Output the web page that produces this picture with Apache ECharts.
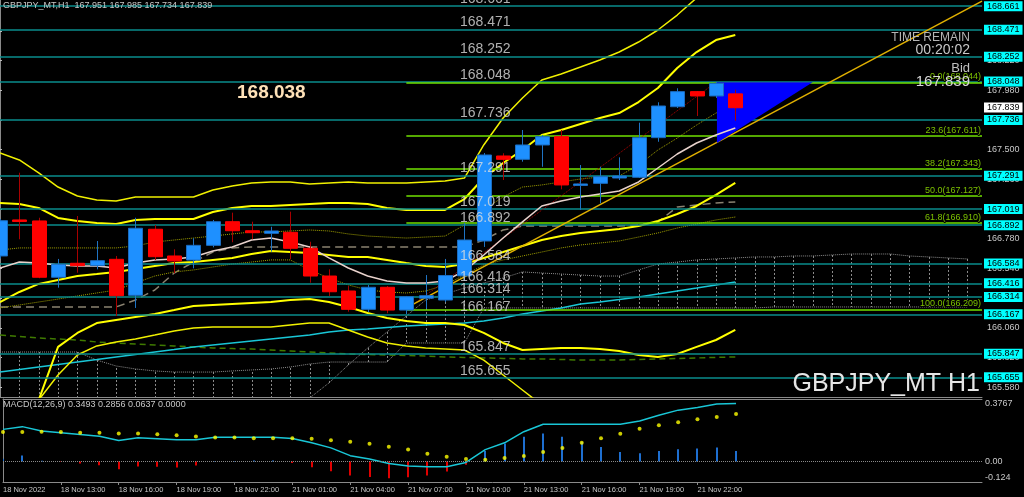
<!DOCTYPE html>
<html><head><meta charset="utf-8">
<script src="https://cdn.jsdelivr.net/npm/echarts/dist/echarts.min.js"></script>
<style>html,body{margin:0;padding:0;background:#000;}#c{width:1024px;height:497px;}</style>
</head><body><div id="c"></div>
<script>
// ---------- DATA ----------
const timeTickIdx = [0,3,6,9,12,15,18,21,24,27,30,33,36];
const timeTickLabels = ['18 Nov 2022','18 Nov 13:00','18 Nov 16:00','18 Nov 19:00','18 Nov 22:00','21 Nov 01:00','21 Nov 04:00','21 Nov 07:00','21 Nov 10:00','21 Nov 13:00','21 Nov 16:00','21 Nov 19:00','21 Nov 22:00'];
const priceTicks = [165.580,165.820,166.060,166.300,166.540,166.780,167.020,167.260,167.500,167.740,167.980,168.220,168.460];

const opens  = [166.641,166.932,166.924,166.469,166.582,166.563,166.614,166.323,166.857,166.641,166.608,166.727,166.918,166.845,166.824,166.832,166.703,166.479,166.358,166.210,166.388,166.204,166.300,166.285,166.480,166.762,167.449,167.422,167.538,167.605,167.215,167.228,167.271,167.277,167.597,167.847,167.969,167.934,167.951];
const highs  = [166.940,167.314,166.950,166.617,166.964,166.762,166.641,166.950,166.891,166.695,166.784,166.932,166.991,166.918,166.877,166.999,166.756,166.533,166.398,166.406,166.398,166.318,166.487,166.617,166.907,167.473,167.471,167.659,167.619,167.659,167.376,167.362,167.438,167.718,167.883,167.996,167.974,168.047,167.985];
const lows   = [166.620,166.776,166.461,166.385,166.506,166.533,166.156,166.221,166.608,166.501,166.541,166.711,166.752,166.776,166.676,166.614,166.425,166.318,166.191,166.188,166.178,166.172,166.215,166.269,166.440,166.714,167.255,167.403,167.362,167.180,167.013,167.067,167.255,167.271,167.564,167.837,167.772,167.918,167.734];
const closes = [166.926,166.924,166.469,166.574,166.563,166.603,166.320,166.865,166.635,166.601,166.727,166.918,166.845,166.829,166.843,166.703,166.479,166.352,166.210,166.388,166.204,166.312,166.320,166.483,166.770,167.457,167.422,167.538,167.605,167.215,167.223,167.282,167.287,167.597,167.853,167.969,167.934,168.036,167.839];

const bbMid   = [166.269,166.350,166.415,166.447,166.479,166.495,166.512,166.536,166.560,166.584,166.592,166.609,166.625,166.657,166.681,166.673,166.665,166.649,166.633,166.633,166.609,166.584,166.560,166.552,166.576,166.625,166.673,166.722,166.770,166.802,166.827,166.843,166.859,166.883,166.924,166.980,167.045,167.134,167.231];
const bbUp2   = [167.069,167.061,167.029,166.948,166.924,166.908,166.899,166.932,166.940,166.940,166.940,166.996,167.029,167.045,167.045,167.053,167.061,167.069,167.069,167.061,167.029,167.013,167.013,167.013,167.101,167.271,167.392,167.497,167.619,167.659,167.708,167.756,167.796,167.885,167.998,168.160,168.289,168.386,168.427];
const bbUp3   = [167.473,167.417,167.312,167.198,167.126,167.093,167.085,167.118,167.118,167.118,167.118,167.174,167.207,167.231,167.239,167.239,167.223,167.231,167.239,167.231,167.231,167.231,167.239,167.247,167.271,167.538,167.756,167.918,168.063,168.112,168.168,168.225,168.289,168.370,168.467,168.588,168.726,168.855,168.992];
const bbLow2  = [165.154,165.275,165.477,165.906,166.019,166.099,166.124,166.148,166.172,166.204,166.237,166.245,166.253,166.261,166.269,166.285,166.293,166.269,166.229,166.180,166.140,166.116,166.099,166.099,166.083,166.019,165.938,165.881,165.889,165.897,165.897,165.889,165.873,165.841,165.825,165.849,165.906,165.962,166.043];
const bbLow3  = [164.992,165.235,165.477,165.679,165.841,165.914,165.946,165.970,166.002,166.035,166.059,166.067,166.067,166.067,166.067,166.083,166.099,166.099,166.043,165.986,165.938,165.914,165.897,165.889,165.881,165.800,165.679,165.558,165.437,165.316,165.235,165.154,165.073,164.992,164.912,164.912,164.952,164.992,165.073];
const maPink  = [166.544,166.592,166.584,166.568,166.560,166.560,166.544,166.584,166.609,166.617,166.633,166.681,166.714,166.770,166.786,166.754,166.714,166.625,166.544,166.479,166.439,166.423,166.423,166.439,166.520,166.649,166.786,166.916,167.045,167.085,167.118,167.142,167.166,167.239,167.352,167.465,167.554,167.619,167.675];
const maCyan  = [165.703,165.724,165.744,165.764,165.784,165.804,165.825,165.845,165.865,165.885,165.906,165.922,165.938,165.954,165.970,165.986,166.002,166.027,166.043,166.051,166.063,166.075,166.083,166.091,166.099,166.116,166.140,166.172,166.196,166.221,166.253,166.269,166.289,166.310,166.334,166.358,166.382,166.407,166.431];
const maGreen = [166.002,165.990,165.978,165.970,165.962,165.946,165.938,165.930,165.922,165.914,165.906,165.897,165.893,165.889,165.881,165.873,165.865,165.857,165.849,165.845,165.841,165.837,165.833,165.825,165.821,165.817,165.813,165.809,165.809,165.805,165.800,165.800,165.800,165.805,165.809,165.813,165.817,165.821,165.825];
const kijun   = [166.229,166.229,166.229,166.229,166.229,166.229,166.229,166.285,166.366,166.503,166.592,166.673,166.706,166.714,166.714,166.714,166.714,166.714,166.714,166.714,166.714,166.714,166.714,166.714,166.714,166.770,166.851,166.883,166.883,166.883,166.883,166.883,166.883,166.891,166.916,167.037,167.053,167.069,167.077];
const dotOlive1 = [166.689,166.706,166.706,166.706,166.706,166.706,166.706,166.722,166.754,166.770,166.786,166.802,166.819,166.835,166.835,166.843,166.851,166.843,166.819,166.802,166.794,166.786,166.794,166.802,166.891,167.013,167.118,167.198,167.215,167.239,167.263,167.279,167.287,167.376,167.497,167.594,167.699,167.796,167.853];
const dotOlive2 = [166.221,166.245,166.269,166.293,166.318,166.342,166.366,166.423,166.479,166.512,166.528,166.552,166.576,166.592,166.609,166.609,166.528,166.463,166.407,166.366,166.350,166.342,166.358,166.407,166.487,166.568,166.609,166.641,166.673,166.706,166.730,166.746,166.762,166.794,166.827,166.867,166.899,166.932,166.956];
// cloud spans, bars 0..50
const spanA = [165.235,165.235,165.235,165.235,165.235,165.235,165.235,165.235,165.235,165.235,165.235,165.235,165.235,165.235,165.235,165.300,165.493,165.615,165.760,165.897,166.027,166.156,166.285,166.334,166.382,166.423,166.463,166.512,166.503,166.495,166.487,166.479,166.479,166.528,166.576,166.592,166.609,166.617,166.625,166.633,166.633,166.641,166.641,166.649,166.657,166.657,166.657,166.641,166.633,166.625,166.617];
const spanB = [165.865,165.865,165.865,165.865,165.865,165.800,165.752,165.728,165.712,165.703,165.703,165.703,165.712,165.720,165.728,165.744,165.768,165.784,165.784,165.784,165.784,165.938,165.938,165.938,165.938,166.221,166.221,166.221,166.221,166.221,166.221,166.221,166.221,166.221,166.221,166.221,166.221,166.221,166.221,166.221,166.229,166.229,166.229,166.229,166.229,166.229,166.229,166.229,166.229,166.229,166.229];

const levelPrices = [168.661,168.471,168.252,168.048,167.736,167.291,167.019,166.892,166.584,166.416,166.314,166.167,165.847,165.655];
const fibLevels = ['0.0','23.6','38.2','50.0','61.8','100.0'];
const fibPrices = [168.044,167.611,167.343,167.127,166.910,166.209];
const bidPrice = 167.839;

const macdMain   = [0.1935,0.2100,0.1832,0.1734,0.1630,0.1526,0.1264,0.1429,0.1368,0.1306,0.1306,0.1465,0.1465,0.1465,0.1465,0.1386,0.1123,0.0818,0.0348,0.0147,-0.0122,-0.0281,-0.0324,-0.0324,-0.0061,0.0714,0.1123,0.1795,0.2241,0.2241,0.2241,0.2241,0.2241,0.2442,0.2790,0.3095,0.3260,0.3462,0.3493];
const macdSignal = [0.1770,0.1770,0.1795,0.1770,0.1734,0.1734,0.1691,0.1691,0.1648,0.1587,0.1508,0.1447,0.1447,0.1404,0.1404,0.1404,0.1368,0.1282,0.1184,0.1062,0.0879,0.0714,0.0470,0.0287,0.0147,0.0104,0.0208,0.0330,0.0574,0.0818,0.1123,0.1404,0.1673,0.1978,0.2179,0.2363,0.2546,0.2686,0.2856];
const macdHist   = [0.0160,0.0366,0.0040,-0.0040,-0.0122,-0.0226,-0.0470,-0.0305,-0.0324,-0.0366,-0.0244,0.0020,0.0031,0.0061,0.0061,-0.0100,-0.0348,-0.0592,-0.0855,-0.0934,-0.1020,-0.0958,-0.0855,-0.0611,-0.0201,0.0629,0.1081,0.1484,0.1691,0.1484,0.1178,0.0873,0.0568,0.0488,0.0629,0.0733,0.0775,0.0836,0.0637];
const macdTicks = [-0.124, 0, 0.3767];

// ---------- LAYOUT / STYLE ----------
const XMAX = 50.75, PLOT_W = 982;
const SANS = '"Liberation Sans",Arial,sans-serif';
const teal = '#0a8c8c', fibGreen = '#70e000';
const pair = arr => arr.map((v,i)=>[i,v]);

function renderCandle(params, api){
  const i=api.value(0), o=api.value(1), c=api.value(2), l=api.value(3), h=api.value(4);
  const pO=api.coord([i,o]), pC=api.coord([i,c]), pL=api.coord([i,l]), pH=api.coord([i,h]);
  const up = c >= o;
  const x = Math.round(pO[0]) + 0.5, w = 14;
  const top = Math.min(pO[1],pC[1]), bot = Math.max(pO[1],pC[1]);
  return {type:'group', children:[
    {type:'line', shape:{x1:x,y1:pH[1],x2:x,y2:pL[1]}, style:{stroke: up?'#1f74c4':'#a80000', lineWidth:1}},
    {type:'rect', shape:{x:x-w/2, y:top, width:w, height:Math.max(bot-top,1.5)}, style:{fill: up?'#1e90ff':'#ff0000', stroke: up?'#1b6cc0':'#ff0000', lineWidth:1}}
  ]};
}
function renderHist(params, api){
  const i=api.value(0), v=api.value(1);
  const p0=api.coord([i,0]), p1=api.coord([i,v]);
  const x=Math.round(p0[0]);
  return {type:'rect', shape:{x:x-1, y:Math.min(p0[1],p1[1]), width:2, height:Math.abs(p1[1]-p0[1])}, style:{fill: v>=0?'#1e6fd0':'#e00000'}};
}
function renderCloud(params, api){
  const i=api.value(0), a=api.value(1), b=api.value(2);
  const pa=api.coord([i,a]), pb=api.coord([i,b]);
  const x=Math.round(pa[0])+0.5;
  return {type:'line', shape:{x1:x,y1:pa[1],x2:x,y2:pb[1]}, style:{stroke:'#8c8c8c', lineWidth:1, lineDash:[2,2]}};
}
function renderTri(params, api){
  if (params.dataIndex !== 0) return;
  const pts = triPts.map(p=>api.coord(p));
  return {type:'polygon', shape:{points:pts}, style:{fill:'#0000ff'}};
}
const triPts = [[37.05,168.044],[42.0,168.044],[37.05,167.554]];

const lineS = (data, color, width, type, z) => ({type:'line', xAxisIndex:0, yAxisIndex:0, data:pair(data), symbol:'none', silent:true, z:z||3,
  lineStyle:{color, width, type:type||'solid'}, animation:false});

const chart = echarts.init(document.getElementById('c'), null, {renderer:'canvas'});
const option = {
  backgroundColor:'#000',
  animation:false,
  grid:[
    {left:0, top:0, width:PLOT_W, height:397},
    {left:0, top:399, width:PLOT_W, height:83}
  ],
  xAxis:[
    {type:'value', gridIndex:0, min:0, max:XMAX, axisLabel:{show:false}, axisTick:{show:false}, splitLine:{show:false},
      axisLine:{show:true, onZero:false, lineStyle:{color:'#8a8a8a'}}},
    {type:'value', gridIndex:1, min:0, max:XMAX, splitLine:{show:false}, position:'bottom',
      axisLine:{show:true, onZero:false, lineStyle:{color:'#8a8a8a'}},
      axisTick:{show:true, length:3, customValues: timeTickIdx.slice(1), lineStyle:{color:'#8a8a8a'}},
      axisLabel:{show:true, customValues: timeTickIdx, align:'left', margin:4, color:'#c8c8c8', fontSize:7.5, fontFamily:SANS,
        formatter: v => timeTickLabels[timeTickIdx.indexOf(Math.round(v))] || ''}},
    {type:'value', gridIndex:1, min:0, max:XMAX, position:'top', axisLabel:{show:false}, axisTick:{show:false}, splitLine:{show:false},
      axisLine:{show:true, onZero:false, lineStyle:{color:'#8a8a8a'}}}
  ],
  yAxis:[
    {type:'value', gridIndex:0, position:'right', min:165.5014, max:168.7095, splitLine:{show:false},
      axisLine:{show:true, lineStyle:{color:'#8a8a8a'}},
      axisTick:{show:true, length:2, customValues:priceTicks, lineStyle:{color:'#bbbbbb'}},
      axisLabel:{show:true, customValues:priceTicks, margin:5, color:'#c8c8c8', fontSize:9, fontFamily:SANS, formatter:v=>v.toFixed(3)}},
    {type:'value', gridIndex:1, position:'right', min:-0.124, max:0.3767, splitLine:{show:false},
      axisLine:{show:true, lineStyle:{color:'#8a8a8a'}},
      axisTick:{show:false},
      axisLabel:{show:true, customValues:macdTicks, margin:3, color:'#c8c8c8', fontSize:9, fontFamily:SANS,
        verticalAlignMinLabel:'bottom', verticalAlignMaxLabel:'top',
        formatter:v=> v===0 ? '0.00' : (Math.abs(v-0.3767)<1e-6 ? '0.3767' : '-0.124')}}
  ],
  series:[
    {type:'line', xAxisIndex:0, yAxisIndex:0, data:[], z:2, silent:true,
      markLine:{symbol:'none', silent:true, animation:false,
        lineStyle:{color:teal, width:1.5, type:'solid'},
        label:{show:true, position:'end', distance:2, backgroundColor:'#00ffff', color:'#000', fontSize:9, fontFamily:SANS, padding:[1,3,0,3],
          formatter:'{b}'},
        data: levelPrices.map(v=>({yAxis:v, name:v.toFixed(3)}))
          .concat([{yAxis:bidPrice, name:bidPrice.toFixed(3), lineStyle:{color:'rgba(0,0,0,0)'}, label:{backgroundColor:'#ffffff', color:'#000'}}])
      }},
    {type:'custom', xAxisIndex:0, yAxisIndex:0, data:spanA.map((a,i)=>[i,a,spanB[i]]), renderItem:renderCloud, z:2, silent:true, clip:true},
    lineS(spanA, '#8c8c8c', 1, 'dotted', 2),
    lineS(spanB, '#8c8c8c', 1, 'dotted', 2),
    {type:'line', xAxisIndex:0, yAxisIndex:0, data:[], z:4, silent:true,
      markLine:{symbol:'none', silent:true, animation:false,
        lineStyle:{color:fibGreen, width:1.5, type:'solid'},
        label:{show:true, position:'insideEndTop', distance:1, color:'#7cc000', fontSize:9, fontFamily:SANS,
          textBorderColor:'#000', textBorderWidth:2},
        data: fibPrices.map((p,k)=>[{coord:[21,p], label:{formatter: fibLevels[k]+'('+p.toFixed(3)+')'}},{coord:[XMAX,p]}])
          .concat([[{coord:[21,fibPrices[5]], lineStyle:{color:'#b00000', type:'dotted', width:1}, label:{show:false}},{coord:[37,fibPrices[0]]}]])
      }},
    lineS(maGreen, '#3f7a00', 1.5, [6,4], 3),
    lineS(maCyan, '#19c6d6', 1.5, 'solid', 3),
    lineS(kijun, '#8a8270', 1.5, [8,5], 3),
    lineS(dotOlive1, '#a0a000', 1, 'dotted', 3),
    lineS(dotOlive2, '#a0a000', 1, 'dotted', 3),
    lineS(bbUp3, '#f0f000', 1.5, 'solid', 4),
    lineS(bbLow3, '#f0f000', 1.5, 'solid', 4),
    lineS(bbUp2, '#ffff00', 2, 'solid', 4),
    lineS(bbLow2, '#ffff00', 2, 'solid', 4),
    lineS(bbMid, '#ffff00', 2, 'solid', 4),
    lineS(maPink, '#e8d2cc', 1.5, 'solid', 5),
    {type:'custom', xAxisIndex:0, yAxisIndex:0, data:[[0]], renderItem:renderTri, z:5, silent:true, clip:true},
    {type:'custom', xAxisIndex:0, yAxisIndex:0, z:6, silent:true, clip:true, renderItem:renderCandle,
      encode:{x:0, y:[1,2,3,4]},
      data: opens.map((o,i)=>[i,o,closes[i],lows[i],highs[i]])},
    {type:'line', xAxisIndex:0, yAxisIndex:0, data:[], z:7, silent:true,
      markLine:{symbol:'none', silent:true, animation:false, label:{show:false},
        lineStyle:{color:'#e0b000', width:1.5, type:'solid'},
        data:[[{coord:[21,166.221]},{coord:[XMAX,168.70]}]]}},
    {type:'scatter', xAxisIndex:0, yAxisIndex:0, z:8, silent:true, symbolSize:0,
      data: levelPrices.map(v=>[23.77, v]),
      label:{show:true, position:'top', align:'left', distance:0, color:'#dcdcdc', fontSize:14, fontFamily:SANS,
        formatter:p=>p.value[1].toFixed(3)}},
    {type:'custom', xAxisIndex:1, yAxisIndex:1, data:pair(macdHist), renderItem:renderHist, z:3, silent:true, clip:true,
      markLine:{symbol:'none', silent:true, label:{show:false}, lineStyle:{color:'#8a8a8a', type:'dotted', width:1}, data:[{yAxis:0}]}},
    {type:'line', xAxisIndex:1, yAxisIndex:1, data:pair(macdMain), symbol:'none', silent:true, z:4, lineStyle:{color:'#19c6d6', width:1.5}},
    {type:'scatter', xAxisIndex:1, yAxisIndex:1, data:pair(macdSignal), symbolSize:4, silent:true, z:5, itemStyle:{color:'#ffff00'}}
  ],
  graphic:[
    {type:'text', x:3, y:6, z:100, style:{text:'GBPJPY_MT,H1  167.951 167.985 167.734 167.839', fill:'#c8c8c8', font:'9px '+SANS, verticalAlign:'middle'}},
    {type:'text', x:3, y:405, z:100, style:{text:'MACD(12,26,9) 0.3493 0.2856 0.0637 0.0000', fill:'#c8c8c8', font:'9px '+SANS, verticalAlign:'middle'}},
    {type:'text', x:237, y:93, z:100, style:{text:'168.038', fill:'#ffe2b8', font:'bold 19px '+SANS, verticalAlign:'middle'}},
    {type:'text', x:980, y:384, z:100, style:{text:'GBPJPY_MT H1', fill:'#e6e6e6', font:'25px '+SANS, align:'right', verticalAlign:'middle'}},
    {type:'text', x:970, y:38, z:100, style:{text:'TIME REMAIN', fill:'#b4b4b4', font:'12px '+SANS, align:'right', verticalAlign:'middle'}},
    {type:'text', x:970, y:50, z:100, style:{text:'00:20:02', fill:'#c8c8c8', font:'14px '+SANS, align:'right', verticalAlign:'middle'}},
    {type:'text', x:970, y:68, z:100, style:{text:'Bid', fill:'#c0c0c0', font:'13px '+SANS, align:'right', verticalAlign:'middle'}},
    {type:'text', x:970, y:82, z:100, style:{text:'167.839', fill:'#d8d8d8', font:'15px '+SANS, align:'right', verticalAlign:'middle'}}
  ]
};
chart.setOption(option);
</script></body></html>
